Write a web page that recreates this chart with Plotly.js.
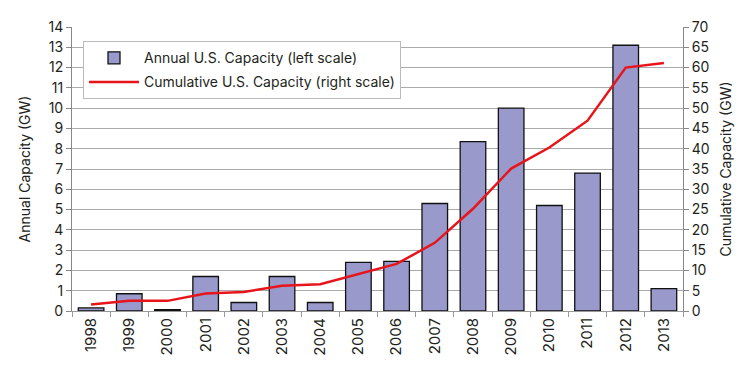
<!DOCTYPE html>
<html><head><meta charset="utf-8">
<script src="https://cdn.plot.ly/plotly-3.0.1.min.js"></script>
<style>html,body{margin:0;padding:0;background:#fff}#chart{width:754px;height:375px}</style>
</head><body><div id="chart"></div>
<script>
const years = ["1998","1999","2000","2001","2002","2003","2004","2005","2006","2007","2008","2009","2010","2011","2012","2013"];
const annualGW = [0.15,0.85,0.07,1.7,0.42,1.7,0.42,2.4,2.45,5.3,8.35,10.0,5.2,6.8,13.1,1.1];
const cumulativeGW = [1.6,2.5,2.5,4.3,4.7,6.2,6.6,9.1,11.6,16.8,25.2,35.1,40.3,46.9,60.0,61.1];
const leftTicks = [0,1,2,3,4,5,6,7,8,9,10,11,12,13,14];
const rightTicks = [0,5,10,15,20,25,30,35,40,45,50,55,60,65,70];

const fam = "Inter, Lato, sans-serif";
const font = {family: fam, color: "#231f20", size: 14};
const data = [
  {type:"bar", x: years, y: annualGW, name:"Annual U.S. Capacity (left scale)", legendgroup:"a",
   marker:{color:"#9999cc", line:{color:"#111", width:1.3}}, yaxis:"y"},
  {type:"scatter", mode:"lines", x: years, y: cumulativeGW, name:"Cumulative U.S. Capacity (right scale)", legendgroup:"b",
   line:{color:"#e8141b", width:2.5}, yaxis:"y2"}
];
const layout = {
  width:754, height:375,
  margin:{l:72, r:71, t:27, b:64},
  paper_bgcolor:"#fff", plot_bgcolor:"#fff",
  font: font,
  bargap: 0.33,
  showlegend:true,
  legend:{x:0.018, y:0.95, xanchor:"left", yanchor:"top", bgcolor:"#fff",
          bordercolor:"#bbb", borderwidth:1, font:{size:14, family:fam, color:"#231f20"},
          traceorder:"grouped", tracegroupgap:3, itemwidth:50},
  xaxis:{type:"category", tickangle:-90, showline:true, linecolor:"#999", ticks:"outside",
         tickcolor:"#999", ticklen:5, tickson:"boundaries", showgrid:false, tickfont:{size:15}},
  yaxis:{range:[0,14], tickvals:leftTicks, ticks:"outside", ticklen:5, tickcolor:"#888",
         showline:true, linecolor:"#888", gridcolor:"#aaa", gridwidth:1, zeroline:false,
         title:{text:"Annual Capacity (GW)", font:{size:14}, standoff:14}, tickfont:{size:14}},
  yaxis2:{range:[0,70], tickvals:rightTicks, overlaying:"y", side:"right", ticks:"outside",
          ticklen:5, tickcolor:"#888", showline:true, linecolor:"#888", showgrid:false, zeroline:false,
          title:{text:"Cumulative Capacity (GW)", font:{size:14}, standoff:12}, tickfont:{size:14}}
};
Plotly.newPlot("chart", data, layout, {displayModeBar:false, staticPlot:true});
</script></body></html>
